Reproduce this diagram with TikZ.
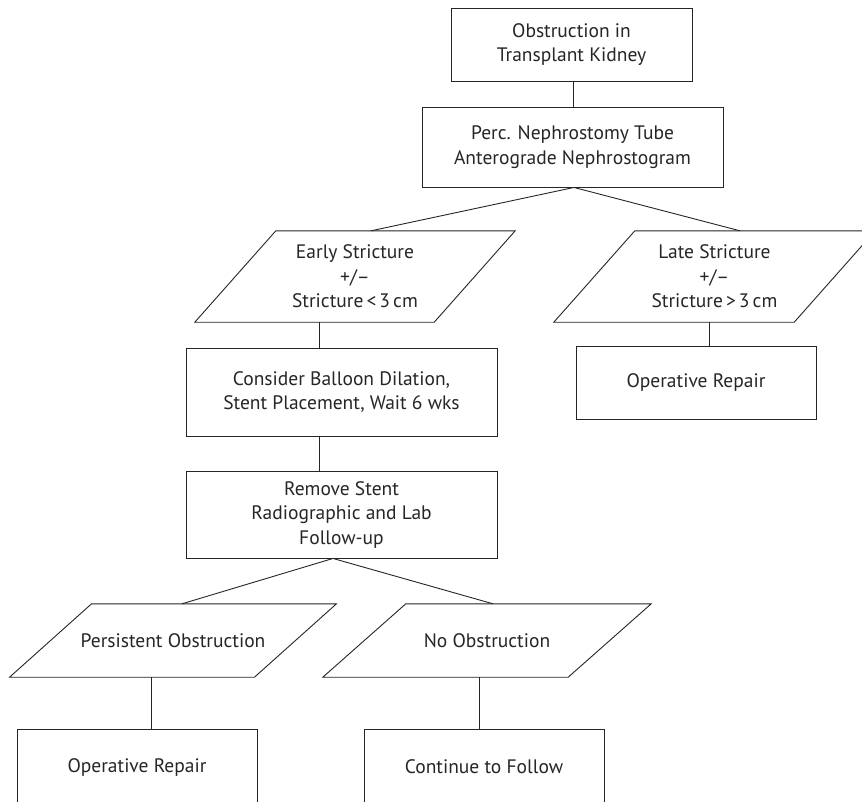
\documentclass[tikz,border=0pt]{standalone}
\usepackage{fontspec}
\setmainfont{PT Sans}
\begin{document}
\begin{tikzpicture}[x=1pt,y=-1pt,
  every node/.style={font=\fontsize{19.5}{24.5}\selectfont, text=black!85, align=center, inner sep=0pt},
  box/.style={draw=black!85, line width=0.9pt, minimum width=#1},
  para/.style={minimum width=#1},
  conn/.style={draw=black!85, line width=0.9pt}
]
\useasboundingbox (0,0) rectangle (862,801);
\clip (0,0) rectangle (862,801);
\fill[white] (0,0) rectangle (862,801);

% boxes
\node[box=241pt, minimum height=73pt] (b1) at (571.5,44.5) {Obstruction in\\Transplant Kidney};
\node[box=301pt, minimum height=80pt] (b2) at (572.5,147) {Perc. Nephrostomy Tube\\Anterograde Nephrostogram};
\node[box=311pt, minimum height=88pt] (b3) at (341.5,392) {Consider Balloon Dilation,\\Stent Placement, Wait 6 wks};
\node[box=240pt, minimum height=73pt] (b4) at (696,382.5) {Operative Repair};
\node[box=311pt, minimum height=87pt] (b5) at (341.5,514.5) {Remove Stent\\Radiographic and Lab\\Follow-up};
\node[box=240pt, minimum height=76pt] (b6) at (137,767) {Operative Repair};
\node[box=240pt, minimum height=76pt] (b7) at (484,767) {Continue to Follow};

% parallelograms (text cores)
\node[para=239pt, minimum height=91pt] (p1) at (355,276.5) {Early Stricture\\+/–\\{\spaceskip=0.16em Stricture < 3 cm}};
\node[para=240pt, minimum height=91pt] (p2) at (714.5,276.5) {Late Stricture\\+/–\\{\spaceskip=0.16em Stricture > 3 cm}};
\node[para=244.5pt, minimum height=73pt] (p3) at (173,640.5) {Persistent Obstruction};
\node[para=245pt, minimum height=73pt] (p4) at (487,640.5) {No Obstruction};

\foreach \n/\s in {p1/40.5, p2/40.5, p3/41, p4/41.5}
  \draw[conn] ([xshift=\s pt]\n.north west) -- ([xshift=\s pt]\n.north east)
     -- ([xshift=-\s pt]\n.south east) -- ([xshift=-\s pt]\n.south west) -- cycle;

% connectors
\draw[conn] ([xshift=1.5pt]b1.south) -- ([xshift=1.5pt]b1.south |- b2.north);
\draw[conn] ([xshift=1.5pt]b2.south) -- ([xshift=16pt]p1.north);
\draw[conn] ([xshift=1.5pt]b2.south) -- ([xshift=25.5pt]p2.north);
\draw[conn] ([xshift=-36pt]p1.south) -- ([xshift=-36pt]p1.south |- b3.north);
\draw[conn] ([xshift=-5.5pt]p2.south) -- ([xshift=-5.5pt]p2.south |- b4.north);
\draw[conn] ([xshift=-22.5pt]b3.south) -- ([xshift=-22.5pt]b3.south |- b5.north);
\draw[conn] ([xshift=-8.5pt]b5.south) -- ([xshift=9pt]p3.north);
\draw[conn] ([xshift=-8.5pt]b5.south) -- ([xshift=6pt]p4.north);
\draw[conn] ([xshift=-22pt]p3.south) -- ([xshift=-22pt]p3.south |- b6.north);
\draw[conn] ([xshift=-8pt]p4.south) -- ([xshift=-8pt]p4.south |- b7.north);
\end{tikzpicture}
\end{document}
